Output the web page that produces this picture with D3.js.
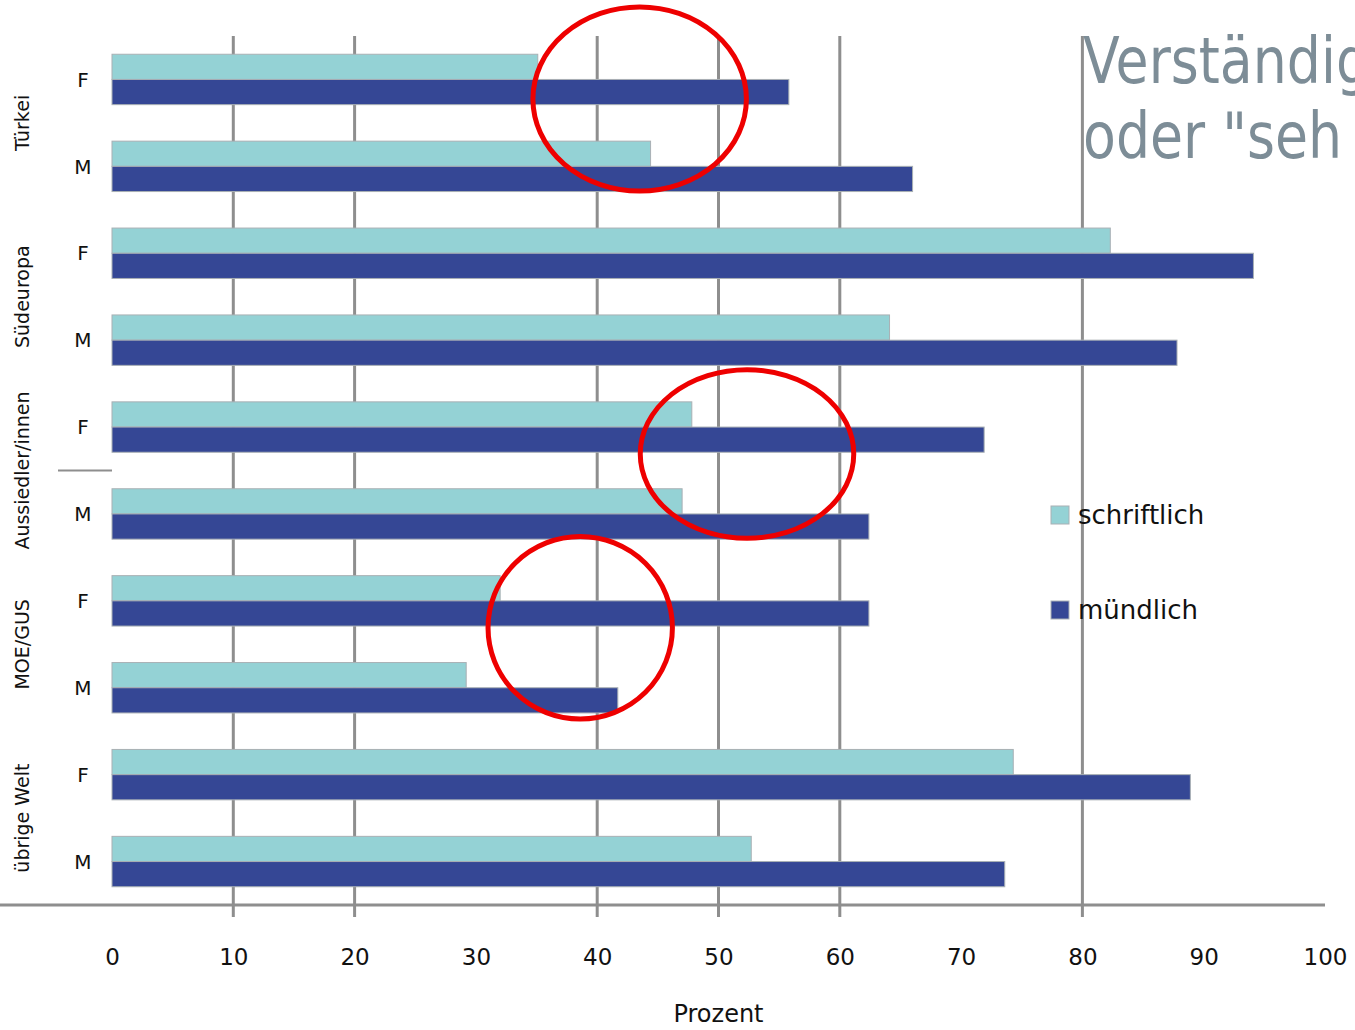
<!DOCTYPE html>
<html>
<head>
<meta charset="utf-8">
<script src="https://cdn.jsdelivr.net/npm/d3@7"></script>
<style>
  body { margin: 0; background: #fff; overflow: hidden; }
  svg { display: block; }
</style>
</head>
<body>
<div class="container"></div>
<script>
// data
var groups = ["Türkei", "Südeuropa", "Aussiedler/innen", "MOE/GUS", "übrige Welt"];
var sexes = ["F", "M"];
var seriesNames = ["schriftlich", "mündlich"];
var schriftlich = [35.1, 44.4, 82.3, 64.1, 47.8, 47.0, 32.0, 29.2, 74.3, 52.7];
var muendlich = [55.8, 66.0, 94.1, 87.8, 71.9, 62.4, 62.4, 41.7, 88.9, 73.6];
var tickLabels = [0, 10, 20, 30, 40, 50, 60, 70, 80, 90, 100];
var gridTicks = [10, 20, 40, 50, 60, 80];
// red rings drawn over the chart: centre value, centre row, radius in value units / rows
var rings = [
  {value: 43.5, row: 0.725, rv: 8.8, rr: 1.06},
  {value: 52.35, row: 4.81, rv: 8.8, rr: 0.97},
  {value: 38.6, row: 6.81, rv: 7.6, rr: 1.05}
];
var titleLines = ["Verständig", "oder \"seh"];

var loadChart = function(){
    var width = 1355, height = 1030;
    var left = 112, right = 1325, top = 36, axisY = 905;
    var colors = {"schriftlich": "#94d2d5", "mündlich": "#354795"};

    var rows = [];
    groups.forEach(function(g, gi){
        sexes.forEach(function(s, si){
            var i = gi * sexes.length + si;
            rows.push({id: i, group: g, sex: s, schriftlich: schriftlich[i], "mündlich": muendlich[i]});
        });
    });

    var x = d3.scaleLinear().domain([0, 100]).range([left, right]);
    var y = d3.scaleBand()
        .domain(rows.map(function(d){ return d.id; }))
        .range([top, axisY])
        .paddingInner(0.42)
        .paddingOuter(0.21);
    var ySub = d3.scaleBand().domain(seriesNames).range([0, y.bandwidth()]);
    var rowPos = d3.scaleLinear().domain([0, rows.length]).range([top, axisY]);

    var svg = d3.select('.container')
        .append('svg')
        .attr('width', width)
        .attr('height', height);

    // gridlines
    svg.selectAll('line.grid')
        .data(gridTicks)
        .enter()
        .append('line')
        .attr('class', 'grid')
        .attr('x1', function(d){ return x(d); })
        .attr('x2', function(d){ return x(d); })
        .attr('y1', top)
        .attr('y2', axisY + 12)
        .attr('stroke', '#8e8e8e')
        .attr('stroke-width', 3);

    // bottom axis line and labels
    svg.append('line')
        .attr('x1', 0)
        .attr('x2', right)
        .attr('y1', axisY)
        .attr('y2', axisY)
        .attr('stroke', '#8e8e8e')
        .attr('stroke-width', 3);

    var xAxis = svg.append('g')
        .attr('transform', 'translate(0,' + axisY + ')')
        .call(d3.axisBottom(x).tickValues(tickLabels).tickSize(0).tickPadding(44));
    xAxis.select('.domain').remove();
    xAxis.selectAll('text')
        .attr('font-family', 'DejaVu Sans, sans-serif')
        .attr('font-size', 23)
        .attr('fill', '#111');

    svg.append('text')
        .attr('x', x(50))
        .attr('y', 1022)
        .attr('text-anchor', 'middle')
        .attr('font-family', 'DejaVu Sans, sans-serif')
        .attr('font-size', 24)
        .attr('fill', '#111')
        .text('Prozent');

    // bars
    var rowG = svg.selectAll('g.row')
        .data(rows)
        .enter()
        .append('g')
        .attr('class', 'row')
        .attr('transform', function(d){ return 'translate(0,' + y(d.id) + ')'; });

    rowG.selectAll('rect')
        .data(function(d){ return seriesNames.map(function(k){ return {key: k, value: d[k]}; }); })
        .enter()
        .append('rect')
        .attr('x', x(0))
        .attr('y', function(d){ return ySub(d.key); })
        .attr('width', function(d){ return x(d.value) - x(0); })
        .attr('height', ySub.bandwidth())
        .attr('fill', function(d){ return colors[d.key]; })
        .attr('stroke', '#a9b0b4')
        .attr('stroke-width', 1);

    // F / M labels
    rowG.append('text')
        .attr('x', 83)
        .attr('y', y.bandwidth() / 2)
        .attr('dy', '0.36em')
        .attr('text-anchor', 'middle')
        .attr('font-family', 'DejaVu Sans, sans-serif')
        .attr('font-size', 20)
        .attr('fill', '#111')
        .text(function(d){ return d.sex; });

    // group labels, rotated
    svg.selectAll('text.group')
        .data(groups)
        .enter()
        .append('text')
        .attr('class', 'group')
        .attr('transform', function(d, i){
            var a = y(i * 2), b = y(i * 2 + 1) + y.bandwidth();
            return 'translate(22,' + ((a + b) / 2) + ') rotate(-90)';
        })
        .attr('dy', '0.36em')
        .attr('text-anchor', 'middle')
        .attr('font-family', 'DejaVu Sans, sans-serif')
        .attr('font-size', 19)
        .attr('fill', '#111')
        .text(function(d){ return d; });

    // single category separator seen in the picture
    svg.append('line')
        .attr('x1', 58)
        .attr('x2', left)
        .attr('y1', rowPos(5))
        .attr('y2', rowPos(5))
        .attr('stroke', '#8e8e8e')
        .attr('stroke-width', 2);

    // legend
    var legend = svg.selectAll('g.legend')
        .data(seriesNames)
        .enter()
        .append('g')
        .attr('class', 'legend')
        .attr('transform', function(d, i){ return 'translate(1051,' + (506 + i * 95) + ')'; });
    legend.append('rect')
        .attr('width', 18)
        .attr('height', 18)
        .attr('fill', function(d){ return colors[d]; })
        .attr('stroke', '#a9b0b4');
    legend.append('text')
        .attr('x', 27)
        .attr('y', 18)
        .attr('font-family', 'DejaVu Sans, sans-serif')
        .attr('font-size', 26)
        .attr('fill', '#111')
        .text(function(d){ return d; });

    // slide title text, cut off at the right edge
    svg.selectAll('text.title')
        .data(titleLines)
        .enter()
        .append('text')
        .attr('class', 'title')
        .attr('transform', function(d, i){ return 'translate(1083,' + (83 + i * 75) + ') scale(0.84,1)'; })
        .attr('font-family', 'DejaVu Sans, sans-serif')
        .attr('font-size', 64)
        .attr('fill', '#7d8d97')
        .text(function(d){ return d; });

    // red rings
    svg.selectAll('ellipse')
        .data(rings)
        .enter()
        .append('ellipse')
        .attr('cx', function(d){ return x(d.value); })
        .attr('cy', function(d){ return rowPos(d.row); })
        .attr('rx', function(d){ return x(d.rv) - x(0); })
        .attr('ry', function(d){ return rowPos(d.rr) - rowPos(0); })
        .attr('fill', 'none')
        .attr('stroke', '#ee0000')
        .attr('stroke-width', 5);
}
window.onload = loadChart;
</script>
</body>
</html>
